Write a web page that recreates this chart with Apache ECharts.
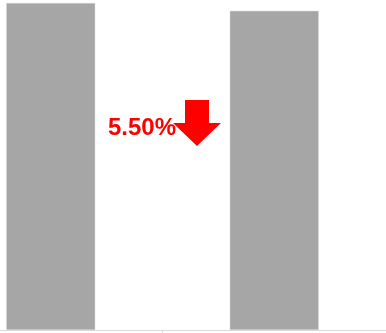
<!DOCTYPE html>
<html>
<head>
<meta charset="utf-8">
<script src="https://cdn.jsdelivr.net/npm/echarts@6/dist/echarts.min.js"></script>
<style>
html,body{margin:0;padding:0;background:#fff;}
#c{width:386px;height:333px;}
</style>
</head>
<body>
<div id="c"></div>
<script>
var categories = ['A', 'B'];
var values = [100, 97.6];
var changeLabel = '5.50%';

var chart = echarts.init(document.getElementById('c'), null, {renderer: 'canvas'});
chart.setOption({
  animation: false,
  grid: {left: -61, right: 0, top: 3, bottom: 3, containLabel: false, outerBoundsMode: 'none'},
  xAxis: {
    type: 'category',
    data: categories,
    axisLine: {show: true, lineStyle: {color: '#d9d9d9', width: 1}},
    axisTick: {show: true, length: 3, lineStyle: {color: '#d9d9d9'}},
    axisLabel: {show: false},
    splitLine: {show: false}
  },
  yAxis: {
    type: 'value',
    min: 0,
    max: 'dataMax',
    show: false,
    splitLine: {show: false}
  },
  series: [{
    type: 'bar',
    data: values,
    barWidth: 89,
    itemStyle: {color: '#a6a6a6', borderColor: '#d9d9d9', borderWidth: 0.5}
  }],
  graphic: [
    {
      type: 'text',
      left: 108,
      top: 116,
      z: 100,
      style: {
        text: changeLabel,
        fill: '#ff0000',
        font: 'bold 24px "Liberation Sans", Arial, sans-serif'
      }
    },
    {
      type: 'polygon',
      z: 100,
      shape: {points: [[185,100],[209,100],[209,123],[221,123],[197,146],[173,123],[185,123]]},
      style: {fill: '#ff0000'}
    }
  ]
});
</script>
</body>
</html>
